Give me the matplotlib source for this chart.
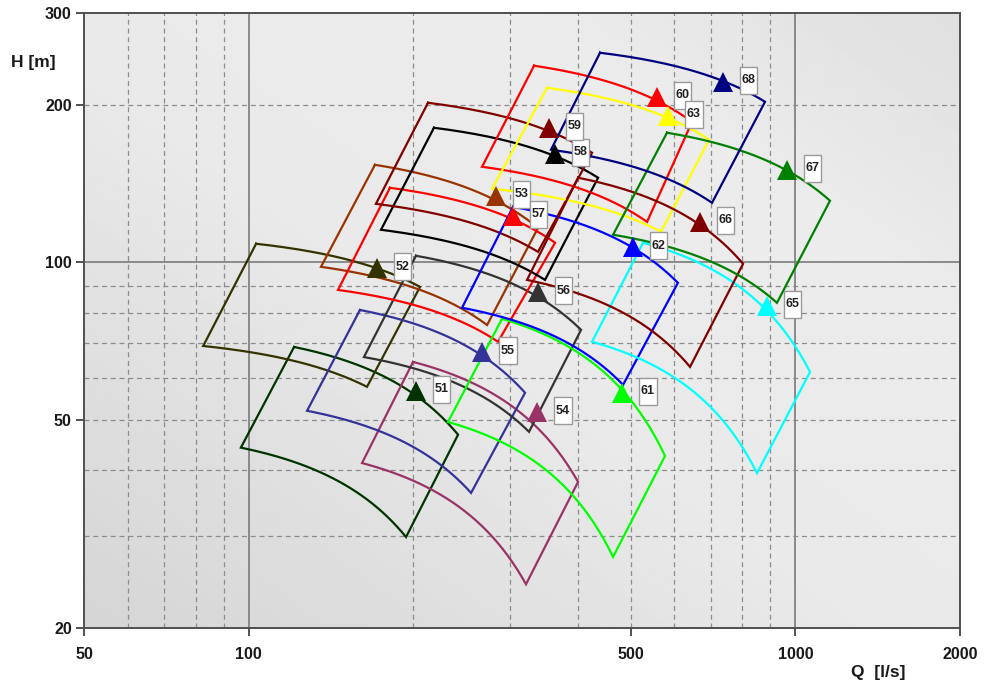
import numpy as np
import matplotlib
matplotlib.use("Agg")
import matplotlib.pyplot as plt
from matplotlib.path import Path
from matplotlib.ticker import FixedLocator, FixedFormatter, NullLocator

plt.rcParams["font.family"] = ["Liberation Sans", "DejaVu Sans"]
plt.rcParams["font.weight"] = "bold"

# Pump selection fields: each field is bounded by the max/min impeller curves
# (top / bottom) and the min/max flow limits (left / right side).
pump_ids = ["51", "52", "53", "54", "55", "56", "57", "58", "59",
            "60", "61", "62", "63", "65", "66", "67", "68"]
line_colors = ["#003300", "#333300", "#993300", "#993366", "#333399", "#333333",
               "#ff0000", "#000000", "#800000", "#ff0000", "#00ff00", "#0000ff",
               "#ffff00", "#00ffff", "#800000", "#008000", "#000080"]

# corner points, Q in l/s and H in m
q_top_left = [121.0, 103.1, 170.1, 199.7, 159.7, 202.2, 181.2, 218.1, 212.7,
              332.5, 290.5, 304.3, 351.2, 526.3, 400.2, 582.1, 439.0]
h_top_left = [68.9, 108.6, 153.8, 64.5, 81.1, 103.0, 139.0, 181.1, 202.2,
              238.1, 78.0, 127.8, 216.0, 109.1, 145.3, 177.2, 252.1]
q_top_right = [241.4, 205.7, 338.1, 400.2, 320.1, 405.3, 363.3, 435.4, 424.5,
               646.9, 577.3, 609.5, 695.0, 1063.4, 802.0, 1156.6, 879.7]
h_top_right = [46.8, 89.8, 116.5, 38.0, 56.3, 74.3, 109.1, 145.3, 162.2,
               185.9, 42.6, 91.4, 171.8, 61.7, 99.4, 131.3, 203.1]
q_bottom_right = [193.9, 164.5, 272.8, 321.4, 255.0, 325.5, 285.7, 348.2, 338.1,
                  535.2, 463.8, 483.7, 567.7, 850.5, 641.4, 925.1, 703.7]
h_bottom_right = [29.8, 57.8, 75.9, 24.2, 36.2, 47.4, 70.5, 92.6, 104.8,
                  119.6, 27.3, 58.3, 114.5, 39.5, 63.1, 83.7, 130.1]
q_bottom_left = [96.7, 82.5, 135.5, 161.1, 127.8, 162.4, 145.6, 174.5, 170.8,
                 267.1, 231.4, 245.5, 278.6, 424.5, 322.8, 463.8, 357.1]
h_bottom_left = [44.2, 69.2, 98.1, 41.3, 52.0, 65.9, 88.6, 115.5, 129.5,
                 152.5, 49.5, 81.9, 138.4, 70.5, 92.6, 113.0, 164.4]
# best efficiency points
q_bep = [202.2, 171.6, 283.3, 336.7, 267.1, 338.1, 304.3, 363.3, 354.2,
         558.2, 481.7, 504.5, 584.7, 887.2, 669.0, 964.9, 737.0]
h_bep = [56.8, 97.6, 134.2, 51.7, 67.4, 87.8, 122.8, 161.5, 181.1,
         207.6, 56.3, 107.1, 190.9, 82.6, 119.6, 150.5, 221.8]

x_ticks = [50, 100, 500, 1000, 2000]
y_ticks = [20, 50, 100, 200, 300]
x_grid_dashed = [60, 70, 80, 90, 200, 300, 400, 500, 600, 700, 800, 900]
x_grid_solid = [100, 1000]
y_grid_dashed = [30, 40, 50, 60, 70, 80, 90, 200]
y_grid_solid = [100]

W, H = 985, 686
fig = plt.figure(figsize=(W / 100, H / 100), dpi=100)
fig.patch.set_facecolor("white")
pos = [84.3 / W, 1 - 627.5 / H, (960 - 84.3) / W, (627.5 - 13.3) / H]

# shaded plot background
bg = fig.add_axes(pos, zorder=0)
gx, gy = np.meshgrid(np.linspace(0, 1, 300), np.linspace(0, 1, 300))
t = (gx + gy) / 2
shade = np.interp(t, [0, 0.45, 0.75, 1.0], [0.835, 0.915, 0.925, 0.875])
bg.imshow(shade, extent=[0, 1, 0, 1], origin="lower", cmap="gray",
          vmin=0, vmax=1, aspect="auto", interpolation="bilinear")
bg.axis("off")

ax = fig.add_axes(pos, zorder=1)
ax.patch.set_alpha(0)
ax.set_xscale("log")
ax.set_yscale("log")
ax.set_xlim(50, 2000)
ax.set_ylim(20, 300)

dash = (0, (4, 3))
for q in x_grid_dashed:
    ax.axvline(q, color="#8c8c8c", lw=0.9, ls=dash, zorder=1)
for q in x_grid_solid:
    ax.axvline(q, color="#7a7a7a", lw=1.2, zorder=1)
for h in y_grid_dashed:
    ax.axhline(h, color="#8c8c8c", lw=0.9, ls=dash, zorder=1)
for h in y_grid_solid:
    ax.axhline(h, color="#7a7a7a", lw=1.2, zorder=1)


def head_curve(q0, h0, q1, h1, n=80):
    """Parabolic head curve H = a - b*Q^2 through two points."""
    b = (h0 - h1) / (q1 ** 2 - q0 ** 2)
    a = h0 + b * q0 ** 2
    q = np.linspace(q0, q1, n)
    return q, a - b * q ** 2


for i in range(len(pump_ids)):
    qt, ht = head_curve(q_top_left[i], h_top_left[i], q_top_right[i], h_top_right[i])
    qb, hb = head_curve(q_bottom_right[i], h_bottom_right[i], q_bottom_left[i], h_bottom_left[i])
    qs = np.concatenate([qt, qb, [q_top_left[i]]])
    hs = np.concatenate([ht, hb, [h_top_left[i]]])
    ax.plot(qs, hs, color=line_colors[i], lw=1.6, solid_joinstyle="miter", zorder=3)

for i in range(len(pump_ids)):
    ax.plot(q_bep[i], h_bep[i], marker="^", ms=15, color=line_colors[i],
            mew=0, zorder=4, linestyle="none")


def tag_box(x0, y0, width, height, mutation_size):
    px = 0.14 * mutation_size
    py = 0.58 * mutation_size
    x0, y0 = x0 - px, y0 - py
    x1, y1 = x0 + width + 2 * px, y0 + height + 2 * py
    return Path([(x0, y0), (x1, y0), (x1, y1), (x0, y1), (x0, y0)],
                closed=True)


for i in range(len(pump_ids)):
    ax.annotate(pump_ids[i], (q_bep[i], h_bep[i]), xytext=(18.5, 1),
                textcoords="offset points", ha="center", va="center",
                fontsize=9, fontweight="bold", color="#222222", zorder=5,
                bbox=dict(boxstyle=tag_box, fc="white", ec="#9a9a9a", lw=1.0))

ax.xaxis.set_major_locator(FixedLocator(x_ticks))
ax.xaxis.set_major_formatter(FixedFormatter([str(v) for v in x_ticks]))
ax.xaxis.set_minor_locator(NullLocator())
ax.yaxis.set_major_locator(FixedLocator(y_ticks))
ax.yaxis.set_major_formatter(FixedFormatter([str(v) for v in y_ticks]))
ax.yaxis.set_minor_locator(NullLocator())
ax.tick_params(axis="both", which="major", direction="out", length=6,
               width=1.3, color="#444444", labelsize=11.5, labelcolor="#1a1a1a")
ax.tick_params(axis="x", pad=8)
ax.tick_params(axis="y", pad=3)
for lab in ax.get_xticklabels() + ax.get_yticklabels():
    lab.set_fontweight("bold")
for s in ax.spines.values():
    s.set_color("#505050")
    s.set_linewidth(1.4)
    s.set_zorder(6)

fig.text(33 / W, 1 - 62 / H, "H [m]", ha="center", va="center",
         fontsize=12.5, fontweight="bold", color="#1a1a1a")
fig.text(878 / W, 1 - 672 / H, "Q  [l/s]", ha="center", va="center",
         fontsize=12.5, fontweight="bold", color="#1a1a1a")

fig.savefig("out.png", dpi=100)
